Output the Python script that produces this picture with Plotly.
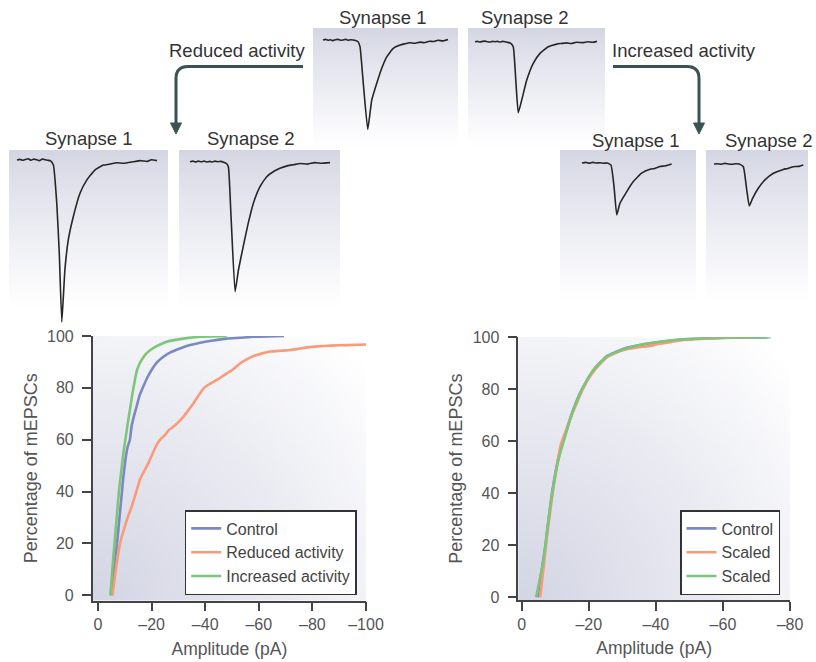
import zlib, struct, base64
import plotly.graph_objects as go

W, H = 816, 662
def fx(px): return px / W
def fy(py): return 1 - py / H

FONT = "Liberation Sans, Arial, sans-serif"

# ---------------- CDF data (amplitude pA, cumulative %) ----------------
left_ctrl_amp = [-5, -6.1, -7.1, -8.2, -9.4, -10.2, -11.0, -11.9, -12.5, -13.5, -14.4, -15.5, -16.9, -18.4, -20, -22, -24.4, -27, -30.6, -34, -38.1, -43, -48.1, -53, -58, -63, -69.4]
left_ctrl_pct = [0, 12, 20, 32, 45, 52, 57, 60, 65, 69.5, 72.8, 77, 80.5, 84, 86.9, 89.8, 92, 93.7, 95.2, 96.4, 97.4, 98.3, 99, 99.3, 99.7, 99.8, 100]

left_red_amp = [-5.4, -6.4, -7.5, -8.7, -10, -11.2, -12.5, -14, -15.6, -17, -18.75, -20.3, -21.9, -23.4, -25, -26.5, -28.1, -30, -31.9, -33.8, -35.6, -37.5, -39.4, -41.2, -43.1, -45.5, -48.1, -50.5, -53.1, -55.5, -58.1, -61, -64.4, -68, -71.9, -75, -78.1, -82, -86.9, -93, -100]
left_red_pct = [0, 8, 16, 22, 26.5, 30.5, 34, 39, 44.5, 47.5, 50.9, 54.5, 58, 60.3, 61.8, 63.8, 65, 66.8, 68.9, 71.5, 74, 77, 79.8, 81.2, 82.3, 83.8, 85.6, 87.2, 89.5, 91, 92.3, 93.2, 94, 94.3, 94.6, 95.1, 95.6, 96, 96.3, 96.5, 96.7]

left_inc_amp = [-4.6, -5.5, -6.9, -7.8, -8.75, -9.5, -10.4, -11.2, -11.9, -12.8, -13.75, -14.6, -15.6, -16.8, -18.1, -19.8, -21.9, -25.6, -30.6, -38, -48]
left_inc_pct = [0, 12, 29, 40, 48.6, 55, 61.4, 67, 71.5, 77.5, 83, 87, 89.5, 91.6, 93.3, 94.8, 96.1, 97.8, 98.8, 99.7, 100]

right_ctrl_amp = [-4.7, -5.8, -7, -8, -9, -10, -11, -12.2, -13.4, -14.6, -15.9, -17.1, -18.4, -19.9, -21.4, -23.4, -25.4, -27.9, -30.4, -34.4, -38.4, -43.3, -48.3, -55, -63, -73.2]
right_ctrl_pct = [0, 9, 19.5, 30, 40, 47.5, 54, 59.5, 64.4, 69.5, 74, 77.8, 81, 84.5, 87.4, 90.3, 92.8, 94.3, 95.6, 96.8, 97.7, 98.5, 99.2, 99.6, 99.8, 100]

right_sc1_amp = [-5.5, -6.5, -7.5, -8.5, -9.5, -10.5, -11.5, -12.7, -14, -15.2, -16.4, -17.6, -18.9, -20.1, -21.4, -23.4, -25.4, -27.9, -30.4, -34.4, -38.4, -40.3, -42.3, -45.3, -48.3, -53.3, -58.3, -63, -68.2]
right_sc1_pct = [0, 11, 23, 33, 42.6, 50.5, 58, 62.5, 67, 71, 74.6, 78.3, 81.7, 84.4, 86.8, 89.8, 92.3, 93.9, 95.1, 96.1, 96.7, 97.3, 97.7, 98.4, 99, 99.4, 99.7, 99.9, 100]

right_sc2_amp = [-4.3, -5.4, -6.5, -7.5, -8.5, -9.5, -10.5, -11.7, -12.9, -14.1, -15.4, -16.9, -18.4, -19.9, -21.4, -23.4, -25.4, -27.9, -30.4, -33.4, -36.4, -40, -43.3, -48, -53.3, -60, -67, -74.2]
right_sc2_pct = [0, 7, 14.4, 24.5, 34.9, 43, 50.3, 56.5, 61.8, 67, 72, 76.8, 81, 84.5, 87.4, 90.2, 92.6, 94.1, 95.4, 96.5, 97.4, 98.1, 98.7, 99.2, 99.6, 99.8, 99.9, 100]

left_ticks = [0, -20, -40, -60, -80, -100]
right_ticks = [0, -20, -40, -60, -80]
y_ticks = [0, 20, 40, 60, 80, 100]

# ---------------- mEPSC example traces (time ms, current pA) ----------------
top_s1_t = [0, 1, 2, 3, 4, 5, 6, 7, 8, 9, 10, 11, 12, 13, 14, 14.8, 16.1, 17.9, 19.5, 21.5, 23.5, 25.5, 28.1, 30.8, 32.5, 34.8, 36.5, 38.8, 40.5, 42.5, 44.1, 46, 48, 50]
top_s1_i = [0, 0.2, -0.1, 0.1, -0.2, 0.1, 0.2, -0.1, 0, 0.2, -0.1, 0.1, 0, -0.2, -0.6, -2.2, -14.3, -29.8, -20, -14.4, -9.4, -5.6, -2.8, -1.7, -1.3, -0.9, -1.1, -0.7, -0.9, -0.4, -0.5, -0.1, -0.3, 0.2]
top_s2_t = [0, 1, 2, 3, 4, 5, 6, 7, 8, 9, 10, 11, 12, 13, 14.2, 15.3, 16.4, 17.3, 18.7, 20.7, 23.3, 26, 29.3, 32.7, 34.5, 36.7, 38.5, 40.5, 43.3, 45, 47, 48.8]
top_s2_i = [0, 0.1, -0.1, 0.1, 0.2, 0, -0.1, 0.1, 0, 0.1, -0.1, 0.1, 0, -0.2, -0.5, -1.7, -13.9, -23.7, -19.4, -12.8, -7.2, -3.9, -1.7, -0.8, -0.6, -0.4, -0.6, -0.2, -0.3, 0, -0.2, 0.1]
red_s1_t = [0, 1, 2, 3, 4, 5, 6, 7, 8, 9, 10, 11, 12, 13, 14.2, 15.1, 16, 17.1, 18.3, 20.1, 22.5, 24.9, 27.9, 30.8, 33, 35.6, 38, 41.5, 44, 46.5, 48, 50]
red_s1_i = [0, 0.2, -0.1, 0.2, 0.4, -0.1, 0.3, 0.1, -0.2, 0.3, 0.1, -0.1, -0.3, -1.7, -14.4, -31, -54, -36.7, -26.7, -18.9, -11.1, -6.7, -3.3, -1.7, -1.4, -0.9, -1.1, -0.6, -0.2, -0.5, 0.1, -0.2]
red_s2_t = [0, 1, 2, 3, 4, 5, 6, 7, 8, 9, 10, 11, 12, 13, 13.7, 14.6, 16.1, 17.3, 19, 20.8, 22.6, 25, 27.4, 30, 32.1, 35, 37, 39.3, 42, 44.5, 47, 50]
red_s2_i = [0, 0.2, -0.1, 0.2, 0, 0.2, -0.1, 0.1, -0.1, 0.2, 0, 0.1, -0.2, -0.6, -1.7, -17.1, -43.3, -36.1, -28.3, -20.5, -13.9, -8.3, -5, -3.2, -2.2, -1.3, -1.0, -0.6, -0.8, -0.3, -0.5, -0.3]
inc_s1_t = [0, 2, 4, 6, 8, 10, 12, 14, 16.1, 17.8, 19.3, 21.1, 24.8, 28.5, 33.1, 37.8, 40.5, 43.3, 46.5, 49.8]
inc_s1_i = [0, 0.2, -0.1, 0.2, 0, 0.1, -0.1, 0, -0.7, -7.9, -17.3, -13.4, -9.6, -6.2, -3.4, -2.1, -1.8, -1.2, -0.9, -0.3]
inc_s2_t = [0, 2, 4, 6, 8, 10, 12, 14, 16.3, 18.2, 19.6, 21.5, 24.6, 28.3, 33, 38.5, 41, 44, 47, 49.6]
inc_s2_i = [0, 0.1, -0.1, 0.2, 0, -0.1, 0.1, 0, -0.9, -8.7, -14, -11.4, -8.1, -5.3, -3.1, -1.8, -1.5, -0.9, -0.8, -0.3]

C_CTRL = "#7a89c0"
C_RED = "#f99a79"
C_INC = "#7cc579"
AX = "#444444"
TXT = "#555555"

# ---------------- gradient images (pure-python PNG) ----------------
def png_uri(w, h, fn):
    rows = []
    for yy in range(h):
        row = bytearray([0])
        for xx in range(w):
            row.extend(fn(xx / (w - 1), yy / (h - 1)))
        rows.append(bytes(row))
    raw = b"".join(rows)
    def chunk(t, d):
        return struct.pack(">I", len(d)) + t + d + struct.pack(">I", zlib.crc32(t + d) & 0xffffffff)
    png = (b"\x89PNG\r\n\x1a\n" + chunk(b"IHDR", struct.pack(">IIBBBBB", w, h, 8, 2, 0, 0, 0))
           + chunk(b"IDAT", zlib.compress(raw, 9)) + chunk(b"IEND", b""))
    return "data:image/png;base64," + base64.b64encode(png).decode()

def mix(c, s):
    s = max(0.0, min(1.0, s))
    return [int(round(c[k] + (255 - c[k]) * s)) for k in range(3)]

PANEL_TOP = (212, 214, 227)
panel_img = png_uri(4, 64, lambda u, v: mix(PANEL_TOP, v ** 0.85))
CHART_DARK = (212, 214, 228)
chart_img = png_uri(64, 64, lambda u, v: mix(CHART_DARK, (((u ** 2 + (1 - v) ** 2) ** 0.5) / 1.35) ** 1.1))

images = []
panels = [(313, 28, 458, 147), (468, 28, 605, 147), (9, 150, 168, 307),
          (179, 150, 340, 307), (560, 150, 696, 303), (706, 150, 808, 303)]
for (l, t, r, b) in panels:
    images.append(dict(source=panel_img, xref="paper", yref="paper", x=fx(l), y=fy(t),
                       sizex=(r - l) / W, sizey=(b - t) / H, xanchor="left", yanchor="top",
                       sizing="stretch", layer="below"))
for (l, t, r, b) in [(92.7, 336, 366, 600.5), (518.3, 337.3, 790, 600)]:
    images.append(dict(source=chart_img, xref="paper", yref="paper", x=fx(l), y=fy(t),
                       sizex=(r - l) / W, sizey=(b - t) / H, xanchor="left", yanchor="top",
                       sizing="stretch", layer="below"))

fig = go.Figure()

# ---------------- CDF charts ----------------
for name, xs, ys, col in [("Control", left_ctrl_amp, left_ctrl_pct, C_CTRL),
                          ("Reduced activity", left_red_amp, left_red_pct, C_RED),
                          ("Increased activity", left_inc_amp, left_inc_pct, C_INC)]:
    fig.add_trace(go.Scatter(x=xs, y=ys, mode="lines", name=name,
                             line=dict(color=col, width=2.6, shape="spline", smoothing=0.3),
                             xaxis="x", yaxis="y", legend="legend", hoverinfo="skip"))
for name, xs, ys, col in [("Control", right_ctrl_amp, right_ctrl_pct, C_CTRL),
                          ("Scaled", right_sc1_amp, right_sc1_pct, C_RED),
                          ("Scaled", right_sc2_amp, right_sc2_pct, C_INC)]:
    fig.add_trace(go.Scatter(x=xs, y=ys, mode="lines", name=name,
                             line=dict(color=col, width=2.6, shape="spline", smoothing=0.3),
                             xaxis="x2", yaxis="y2", legend="legend2", hoverinfo="skip"))

# ---------------- example traces ----------------
# (t, i, trace start px, px per ms, baseline px)
trace_specs = [
    (top_s1_t, top_s1_i, 323, 2.5, 40),
    (top_s2_t, top_s2_i, 475, 2.5, 41.7),
    (red_s1_t, red_s1_i, 17, 2.8, 160),
    (red_s2_t, red_s2_i, 190, 2.8, 161.7),
    (inc_s1_t, inc_s1_i, 582, 1.8, 163),
    (inc_s2_t, inc_s2_i, 714, 1.8, 164),
]
M_PA = 3.0   # px per pA
PAD = 3.0
axes_layout = {}
for n, (tt, ii, x0, k, base) in enumerate(trace_specs, start=3):
    tmin, tmax = min(tt), max(tt)
    imin, imax = min(ii), max(ii)
    xl = x0 + k * tmin - PAD
    xr = x0 + k * tmax + PAD
    ytop = base - M_PA * imax - PAD
    ybot = base - M_PA * imin + PAD
    axes_layout[f"xaxis{n}"] = dict(domain=[fx(xl), fx(xr)], range=[tmin - PAD / k, tmax + PAD / k],
                                    visible=False, anchor=f"y{n}", fixedrange=True)
    axes_layout[f"yaxis{n}"] = dict(domain=[fy(ybot), fy(ytop)], range=[imin - PAD / M_PA, imax + PAD / M_PA],
                                    visible=False, anchor=f"x{n}", fixedrange=True)
    fig.add_trace(go.Scatter(x=tt, y=ii, mode="lines", line=dict(color="#262626", width=1.6, shape="spline", smoothing=0.4),
                             xaxis=f"x{n}", yaxis=f"y{n}", showlegend=False, hoverinfo="skip"))

# ---------------- arrows ----------------
ARROW = "#3b5253"
def P(x, y): return f"{fx(x):.5f},{fy(y):.5f}"
shapes = [
    dict(type="path", xref="paper", yref="paper",
         path=f"M{P(303,66.5)} L{P(188,66.5)} Q{P(176,66.5)} {P(176,78.5)} L{P(176,125)}",
         line=dict(color=ARROW, width=3)),
    dict(type="path", xref="paper", yref="paper",
         path=f"M{P(170.5,123)} L{P(181.5,123)} L{P(176,134)} Z",
         fillcolor=ARROW, line=dict(color=ARROW, width=1)),
    dict(type="path", xref="paper", yref="paper",
         path=f"M{P(613,66.5)} L{P(687,66.5)} Q{P(699,66.5)} {P(699,78.5)} L{P(699,125)}",
         line=dict(color=ARROW, width=3)),
    dict(type="path", xref="paper", yref="paper",
         path=f"M{P(693.5,123)} L{P(704.5,123)} L{P(699,134)} Z",
         fillcolor=ARROW, line=dict(color=ARROW, width=1)),
]

# ---------------- labels ----------------
labels = [("Synapse 1", 382, 18), ("Synapse 2", 524, 18),
          ("Synapse 1", 88, 138), ("Synapse 2", 250, 138),
          ("Synapse 1", 635, 140), ("Synapse 2", 768, 140)]
annotations = [dict(text=t, x=fx(x), y=fy(y), xref="paper", yref="paper", showarrow=False,
                    xanchor="center", yanchor="middle", font=dict(family=FONT, size=18.5, color="#333333"))
               for t, x, y in labels]
for t, x, y in [("Reduced activity", 237, 50), ("Increased activity", 684, 50)]:
    annotations.append(dict(text=t, x=fx(x), y=fy(y), xref="paper", yref="paper", showarrow=False,
                            xanchor="center", yanchor="middle", font=dict(family=FONT, size=18.5, color="#333333")))

def tick_text(v):
    return "0" if v == 0 else "\u2013" + str(abs(v))

def xax(domain, rng, ticks):
    return dict(domain=domain, range=rng, tickvals=ticks, ticktext=[tick_text(v) for v in ticks],
                showline=True, linecolor=AX, linewidth=1.5, ticks="outside", ticklen=9, tickwidth=1.5,
                tickcolor=AX, showgrid=False, zeroline=False, fixedrange=True, automargin=False,
                tickfont=dict(family=FONT, size=16, color=TXT),
                title=dict(text="Amplitude (pA)", font=dict(family=FONT, size=17.5, color=TXT), standoff=10))

def yax(domain, rng, anchor):
    return dict(domain=domain, range=rng, tickvals=y_ticks, showline=True, linecolor=AX, linewidth=1.5,
                ticks="outside", ticklen=9, tickwidth=1.5, tickcolor=AX, showgrid=False, zeroline=False,
                fixedrange=True, anchor=anchor, ticklabelstandoff=5, automargin=False,
                tickfont=dict(family=FONT, size=16, color=TXT),
                title=dict(text="Percentage of mEPSCs", font=dict(family=FONT, size=18, color=TXT), standoff=5))

leg_common = dict(bgcolor="white", bordercolor="#333333", borderwidth=1.5,
                  font=dict(family=FONT, size=16, color="#444444"), xanchor="right", yanchor="bottom",
                  itemwidth=30, tracegroupgap=0)

fig.update_layout(
    width=W, height=H, autosize=False, margin=dict(l=0, r=0, t=0, b=0, pad=0, autoexpand=False),
    paper_bgcolor="white", plot_bgcolor="rgba(0,0,0,0)", showlegend=True,
    font=dict(family=FONT),
    xaxis=xax([fx(92.7), fx(366)], [1.98, -100], left_ticks) | dict(anchor="y"),
    yaxis=yax([fy(600.5), fy(336)], [-2.0, 100], "x"),
    xaxis2=xax([fx(518.3), fx(790)], [1.02, -80], right_ticks) | dict(anchor="y2"),
    yaxis2=yax([fy(600), fy(337.3)], [-1.04, 100], "x2"),
    legend=dict(x=fx(356.7), y=fy(595), **leg_common),
    legend2=dict(x=fx(780), y=fy(595), **leg_common),
    images=images, shapes=shapes, annotations=annotations,
    **axes_layout,
)

fig.write_html("out.html", config={"displayModeBar": False},
               post_script="document.body.style.margin='0px';document.body.style.overflow='hidden';")
